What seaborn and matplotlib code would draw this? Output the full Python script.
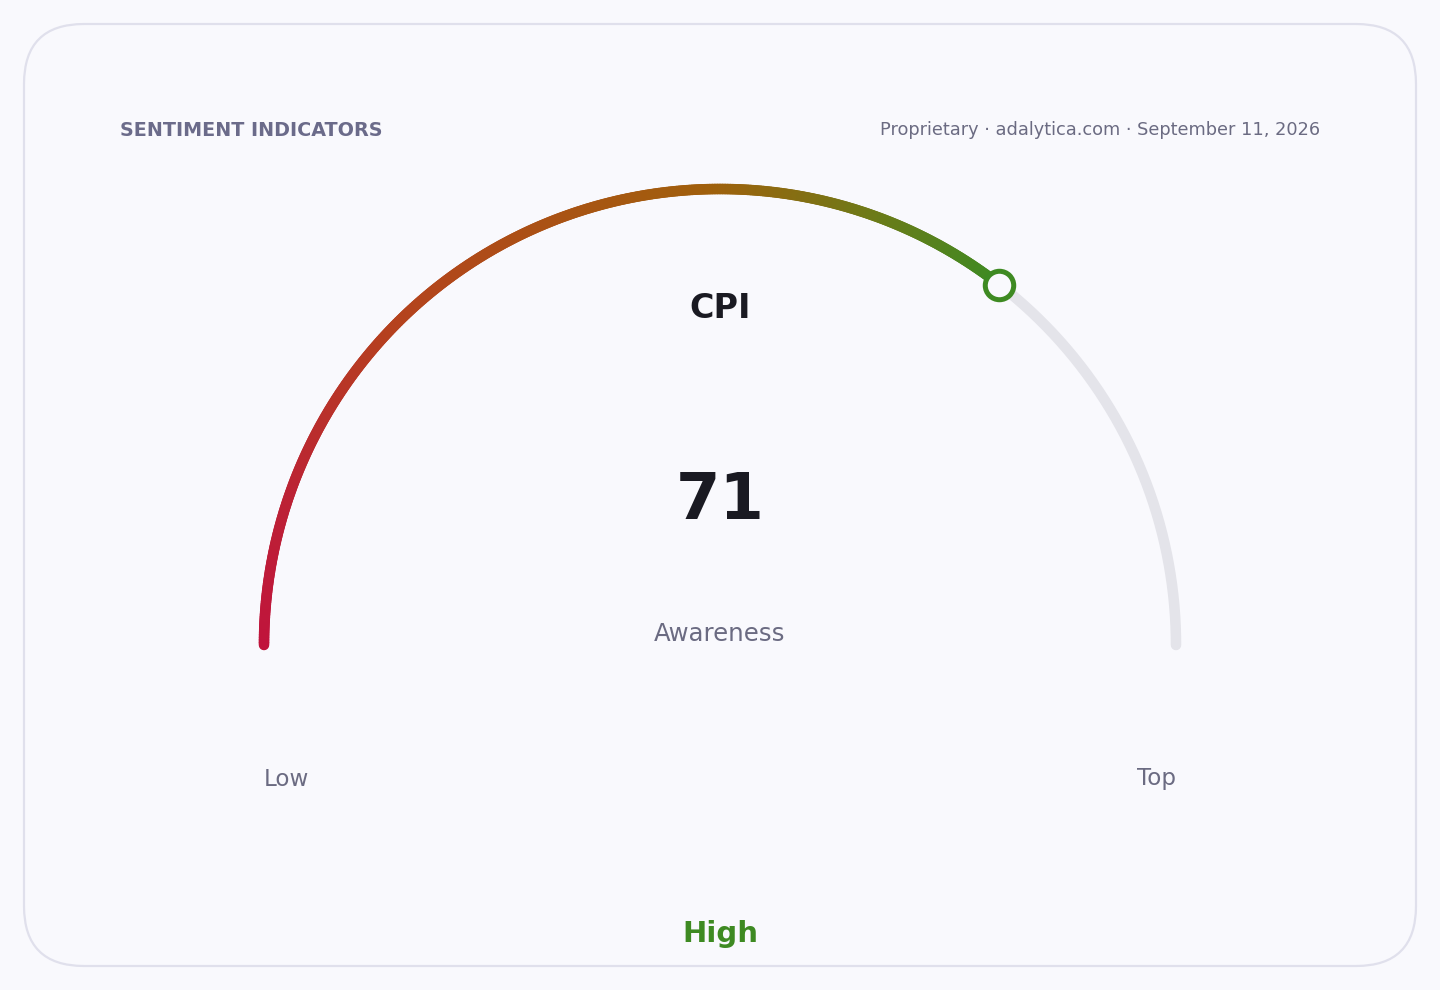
import numpy as np
import pandas as pd
import matplotlib
matplotlib.use("Agg")
import matplotlib.pyplot as plt
import seaborn as sns
from matplotlib.collections import LineCollection
from matplotlib.colors import LinearSegmentedColormap
from matplotlib.patches import FancyBboxPatch

# ---- data ----
header_left = "SENTIMENT INDICATORS"
header_right = "Proprietary · adalytica.com · September 11, 2026"
gauge_title = "CPI"
gauge_value = 71
gauge_min = 0
gauge_max = 100
gauge_label = "Awareness"
range_labels = ["Low", "Top"]
status_label = "High"
grad_stops = [0.0, 0.15, 0.35, 0.70, 0.86, 1.0]
grad_colors = ["#c0143c", "#bc2235", "#b5421e", "#a0600c", "#6e7a18", "#3e8a22"]

# ---- style ----
sns.set_theme(style="white")
plt.rcParams['font.family'] = ['DejaVu Sans']

BG = "#f9f9fd"
W, H = 1440, 990
fig = plt.figure(figsize=(14.4, 9.9), dpi=100, facecolor=BG)
ax = fig.add_axes([0, 0, 1, 1])
ax.set_facecolor(BG)
ax.set_xlim(0, W)
ax.set_ylim(H, 0)
ax.axis("off")

# card
card = FancyBboxPatch((24, 24), 1392, 942, boxstyle="round,pad=0,rounding_size=60",
                      facecolor="#f9f9fd", edgecolor="#e0e0ec", linewidth=1.6, zorder=0)
ax.add_patch(card)

cx, cy, R = 720, 645, 456
lw = 7.6

def to_xy(v):
    ang = np.pi * (1 - (v - gauge_min) / (gauge_max - gauge_min))
    return cx + R * np.cos(ang), cy - R * np.sin(ang)

# track
tv = np.linspace(gauge_value, gauge_max, 200)
tx, ty = to_xy(tv)
track = pd.DataFrame({"x": tx, "y": ty})
sns.lineplot(data=track, x="x", y="y", sort=False, estimator=None, ax=ax,
             color="#e4e4ea", linewidth=lw, solid_capstyle="round", zorder=1)

# gradient arc
cmap = LinearSegmentedColormap.from_list("g", list(zip(grad_stops, grad_colors)))
fv = np.linspace(gauge_min, gauge_value, 400)
fx, fy = to_xy(fv)
pts = np.column_stack([fx, fy]).reshape(-1, 1, 2)
segs = np.concatenate([pts[:-1], pts[1:]], axis=1)
tt = np.linspace(0, 1, len(segs))
lc = LineCollection(segs, colors=cmap(tt), linewidth=lw, capstyle="round",
                    joinstyle="round", zorder=2)
ax.add_collection(lc)

# marker
mx, my = to_xy(np.array([gauge_value]))
sns.scatterplot(x=mx, y=my, ax=ax, s=420, color=BG, edgecolor="#3e8a22",
                linewidth=3.6, zorder=3, legend=False)

ax.set_xlabel("")
ax.set_ylabel("")

muted = "#6b6b82"
ax.text(120, 130, header_left, fontsize=13.8, fontweight="bold", color="#6b6b8a",
        ha="left", va="center")
ax.text(1320, 130, header_right, fontsize=12.8, color=muted, ha="right", va="center")
ax.text(cx, 309, gauge_title, fontsize=24, fontweight="bold", color="#1a1a22",
        ha="center", va="center")
ax.text(cx, 501, str(gauge_value), fontsize=46, fontweight="bold", color="#1a1a22",
        ha="center", va="center")
ax.text(cx, 634, gauge_label, fontsize=17.6, color=muted, ha="center", va="center")
ax.text(264, 779, range_labels[0], fontsize=16.6, color=muted, ha="left", va="center")
ax.text(1176, 779, range_labels[1], fontsize=16.6, color=muted, ha="right", va="center")
ax.text(cx, 934, status_label, fontsize=21, fontweight="bold", color="#3e8a22",
        ha="center", va="center")

fig.savefig("out.png", dpi=100, facecolor=BG)
